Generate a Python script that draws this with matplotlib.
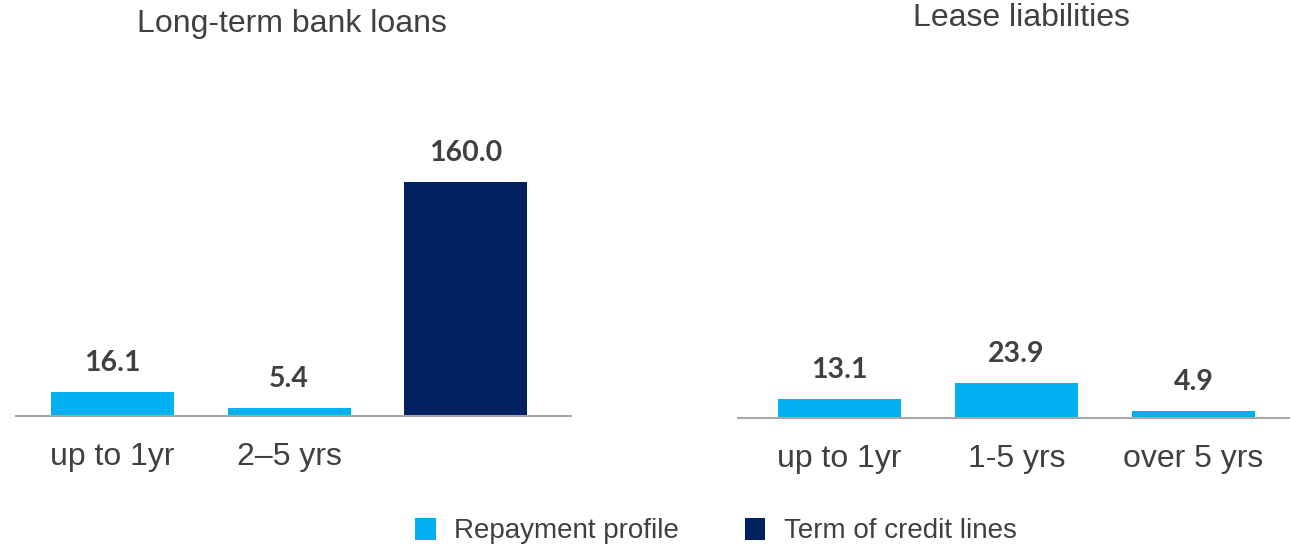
import matplotlib.pyplot as plt
from matplotlib.patches import Patch

# data
loan_labels = ['up to 1yr', '2\u20135 yrs', '']
loan_values = [16.1, 5.4, 160.0]
loan_series = ['repay', 'repay', 'credit']

lease_labels = ['up to 1yr', '1-5 yrs', 'over 5 yrs']
lease_values = [13.1, 23.9, 4.9]
lease_series = ['repay', 'repay', 'repay']

colors = {'repay': '#00B0F0', 'credit': '#002060'}
legend_names = {'repay': 'Repayment profile', 'credit': 'Term of credit lines'}

text_color = '#404040'
W, H = 1291, 549
fig = plt.figure(figsize=(W / 100, H / 100), dpi=100)

px_per_unit = 1.469
top_px = 90


def draw_panel(rect, labels, values, series, title, title_xy, xlim):
    ax = fig.add_axes(rect)
    base_y = H - rect[1] * H
    ymax = (base_y - top_px) / px_per_unit
    x = list(range(len(values)))
    ax.bar(x, values, width=0.695, color=[colors[s] for s in series], zorder=2)
    ax.axhline(0, color='#A6A6A6', lw=1.5, zorder=3)
    ax.set_xlim(*xlim)
    ax.set_ylim(-1.4, ymax)
    for xi, v in zip(x, values):
        ax.annotate(f'{v:.1f}', (xi, v), xytext=(0, 21), textcoords='offset points',
                    ha='center', va='center', fontsize=20.5, fontweight='bold',
                    family='Lato', color=text_color)
    ax.set_xticks(x)
    ax.set_xticklabels(labels, fontsize=23, family='Liberation Sans', color=text_color)
    ax.tick_params(axis='x', length=0, pad=17)
    ax.set_yticks([])
    for s in ax.spines.values():
        s.set_visible(False)
    fig.text(title_xy[0] / W, 1 - title_xy[1] / H, title, ha='center', va='center',
             fontsize=23, family='Liberation Sans', color=text_color)
    return ax


draw_panel([15 / W, (H - 418) / H, 557 / W, (418 - top_px) / H],
           loan_labels, loan_values, loan_series,
           'Long-term bank loans', (292, 24), (-0.55, 2.6))
draw_panel([737 / W, (H - 420) / H, 553 / W, (420 - top_px) / H],
           lease_labels, lease_values, lease_series,
           'Lease liabilities', (1021, 18), (-0.58, 2.545))

handles = [Patch(facecolor=colors[k], label=legend_names[k]) for k in ['repay', 'credit']]
fig.legend(handles=handles, loc='center', bbox_to_anchor=(716 / W, 1 - 531 / H),
           ncol=2, frameon=False, handlelength=0.75, handleheight=0.85,
           columnspacing=2.35, handletextpad=0.68,
           prop={'family': 'Liberation Sans', 'size': 20}, labelcolor=text_color)

fig.savefig('out.png', dpi=100)
